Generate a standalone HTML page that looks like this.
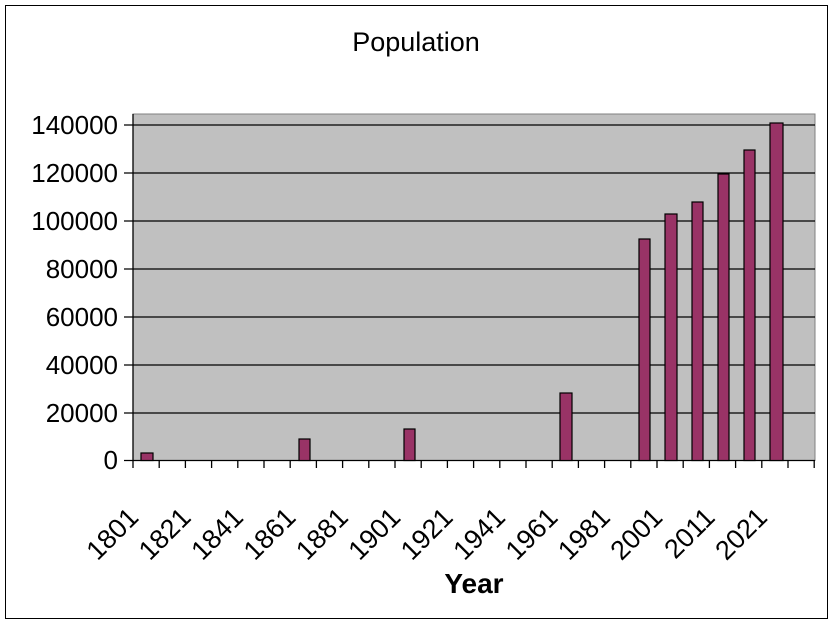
<!DOCTYPE html>
<html><head><meta charset="utf-8"><style>
html,body{margin:0;padding:0;background:#fff}
svg{display:block}
text{font-family:"Liberation Sans",Arial,sans-serif}
</style></head><body>
<svg width="832" height="624" viewBox="0 0 832 624" xmlns="http://www.w3.org/2000/svg">
<rect x="5.5" y="5.5" width="822" height="613" fill="#fff" stroke="#000" stroke-width="1"/>
<text x="416" y="51" font-size="27" text-anchor="middle">Population</text>
<rect x="133" y="114" width="682" height="346.5" fill="#c0c0c0" stroke="#808080" stroke-width="1"/>
<g stroke="#000" stroke-width="1.3">
<line x1="124" y1="125" x2="815" y2="125"/>
<line x1="124" y1="173" x2="815" y2="173"/>
<line x1="124" y1="221" x2="815" y2="221"/>
<line x1="124" y1="269" x2="815" y2="269"/>
<line x1="124" y1="317" x2="815" y2="317"/>
<line x1="124" y1="365" x2="815" y2="365"/>
<line x1="124" y1="413" x2="815" y2="413"/>
<line x1="124" y1="460.5" x2="815" y2="460.5"/>
<line x1="133" y1="114" x2="133" y2="468"/>
</g>
<g font-size="26" text-anchor="end">
<text x="118" y="134">140000</text>
<text x="118" y="182">120000</text>
<text x="118" y="230">100000</text>
<text x="118" y="278">80000</text>
<text x="118" y="326">60000</text>
<text x="118" y="374">40000</text>
<text x="118" y="422">20000</text>
<text x="118" y="469">0</text>
</g>
<g fill="#993366" stroke="#000" stroke-width="1.2">
<rect x="141" y="453" width="12" height="7.5"/>
<rect x="299" y="439" width="11" height="21.5"/>
<rect x="404" y="429" width="11" height="31.5"/>
<rect x="560" y="393" width="12" height="67.5"/>
<rect x="639" y="239" width="11" height="221.5"/>
<rect x="665" y="214" width="12" height="246.5"/>
<rect x="692" y="202" width="11" height="258.5"/>
<rect x="718" y="174" width="11" height="286.5"/>
<rect x="744" y="150" width="11" height="310.5"/>
<rect x="770" y="123" width="13" height="337.5"/>
</g>
<g stroke="#000" stroke-width="1.3">
<line x1="159.2" y1="460" x2="159.2" y2="468"/><line x1="185.4" y1="460" x2="185.4" y2="468"/>
<line x1="211.6" y1="460" x2="211.6" y2="468"/><line x1="237.8" y1="460" x2="237.8" y2="468"/>
<line x1="264" y1="460" x2="264" y2="468"/><line x1="290.2" y1="460" x2="290.2" y2="468"/>
<line x1="316.4" y1="460" x2="316.4" y2="468"/><line x1="342.6" y1="460" x2="342.6" y2="468"/>
<line x1="368.8" y1="460" x2="368.8" y2="468"/><line x1="395" y1="460" x2="395" y2="468"/>
<line x1="421.2" y1="460" x2="421.2" y2="468"/><line x1="447.4" y1="460" x2="447.4" y2="468"/>
<line x1="473.6" y1="460" x2="473.6" y2="468"/><line x1="499.8" y1="460" x2="499.8" y2="468"/>
<line x1="526" y1="460" x2="526" y2="468"/><line x1="552.2" y1="460" x2="552.2" y2="468"/>
<line x1="578.4" y1="460" x2="578.4" y2="468"/><line x1="604.6" y1="460" x2="604.6" y2="468"/>
<line x1="630.8" y1="460" x2="630.8" y2="468"/><line x1="657" y1="460" x2="657" y2="468"/>
<line x1="683.2" y1="460" x2="683.2" y2="468"/><line x1="709.4" y1="460" x2="709.4" y2="468"/>
<line x1="735.6" y1="460" x2="735.6" y2="468"/><line x1="761.8" y1="460" x2="761.8" y2="468"/>
<line x1="788" y1="460" x2="788" y2="468"/><line x1="814.2" y1="460" x2="814.2" y2="468"/>
</g>
<g font-size="27" text-anchor="end">
<text transform="translate(140,519) rotate(-45)">1801</text>
<text transform="translate(192.4,519) rotate(-45)">1821</text>
<text transform="translate(244.8,519) rotate(-45)">1841</text>
<text transform="translate(297.2,519) rotate(-45)">1861</text>
<text transform="translate(349.6,519) rotate(-45)">1881</text>
<text transform="translate(402,519) rotate(-45)">1901</text>
<text transform="translate(454.4,519) rotate(-45)">1921</text>
<text transform="translate(506.8,519) rotate(-45)">1941</text>
<text transform="translate(559.2,519) rotate(-45)">1961</text>
<text transform="translate(611.6,519) rotate(-45)">1981</text>
<text transform="translate(664,519) rotate(-45)">2001</text>
<text transform="translate(716.4,519) rotate(-45)">2011</text>
<text transform="translate(768.8,519) rotate(-45)">2021</text>
</g>
<text x="474" y="593" font-size="28" font-weight="bold" text-anchor="middle">Year</text>
</svg>
</body></html>
